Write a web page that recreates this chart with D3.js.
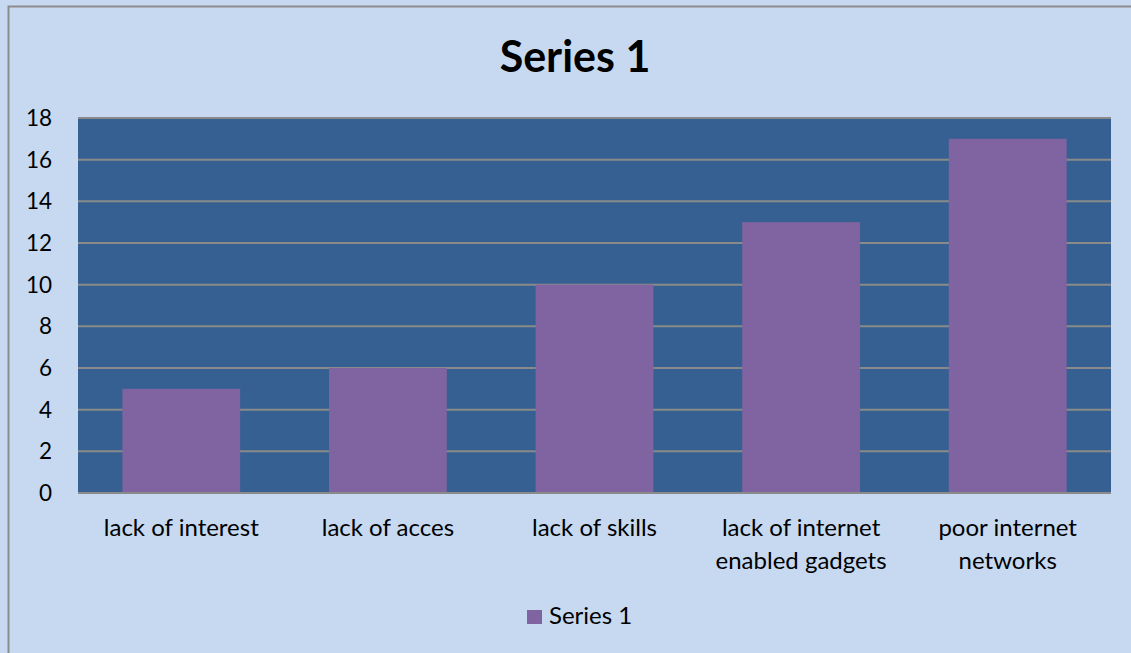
<!DOCTYPE html>
<html><head><meta charset="utf-8">
<script src="https://cdn.jsdelivr.net/npm/d3@7"></script>
<style>body{margin:0;background:#c6d9f1;font-family:Lato,"Open Sans",sans-serif;}</style>
</head><body>
<svg id="c" width="1131" height="653"></svg>
<script>
const categories = [["lack of interest"],["lack of acces"],["lack of skills"],["lack of internet","enabled gadgets"],["poor internet","networks"]];
const values = [5, 6, 10, 13, 17];
const yTicks = [0,2,4,6,8,10,12,14,16,18];
const seriesName = "Series 1";

const svg = d3.select("#c");
svg.append("rect").attr("x",0).attr("y",0).attr("width",1131).attr("height",653).attr("fill","#c6d9f1");
svg.append("rect").attr("x",8.5).attr("y",6.5).attr("width",1140).attr("height",660).attr("fill","none").attr("stroke","#8c8c8c").attr("stroke-width",2);

const L=78,R=1111,T=118,B=493;
const x = d3.scaleBand().domain(d3.range(categories.length)).range([L,R]).paddingInner(0.43).paddingOuter(0.215);
const y = d3.scaleLinear().domain([0,18]).range([B,T]);

svg.append("rect").attr("x",L).attr("y",T).attr("width",R-L).attr("height",B-T).attr("fill","#366092");
svg.append("g").selectAll("line").data(yTicks).join("line")
  .attr("x1",L).attr("x2",R).attr("y1",d=>y(d)).attr("y2",d=>y(d))
  .attr("stroke","#8a8a8a").attr("stroke-width",2);

svg.append("g").selectAll("rect").data(values).join("rect")
  .attr("x",(d,i)=>x(i)).attr("width",x.bandwidth())
  .attr("y",d=>y(d)).attr("height",d=>B-y(d)).attr("fill","#8064a2");

svg.append("line").attr("x1",L).attr("x2",R).attr("y1",B).attr("y2",B).attr("stroke","#8a8a8a").attr("stroke-width",2);

svg.append("g").selectAll("text").data(yTicks).join("text")
  .attr("x",52).attr("y",d=>y(d)).attr("dy","0.36em").attr("text-anchor","end")
  .attr("font-size",22.5).attr("fill","#000").text(d=>d);

const cl = svg.append("g").selectAll("text").data(categories).join("text")
  .attr("text-anchor","middle").attr("font-size",24).attr("fill","#000");
cl.each(function(lines,i){
  const t=d3.select(this);
  lines.forEach((s,j)=>t.append("tspan").attr("x",x(i)+x.bandwidth()/2).attr("y",536+j*33).text(s));
});

svg.append("text").attr("x",575).attr("y",72).attr("text-anchor","middle").attr("font-size",43).attr("font-weight","bold").text(seriesName);

svg.append("rect").attr("x",527).attr("y",610).attr("width",15).attr("height",14).attr("fill","#8064a2");
svg.append("text").attr("x",549).attr("y",624).attr("font-size",24).text(seriesName);
</script>
</body></html>
